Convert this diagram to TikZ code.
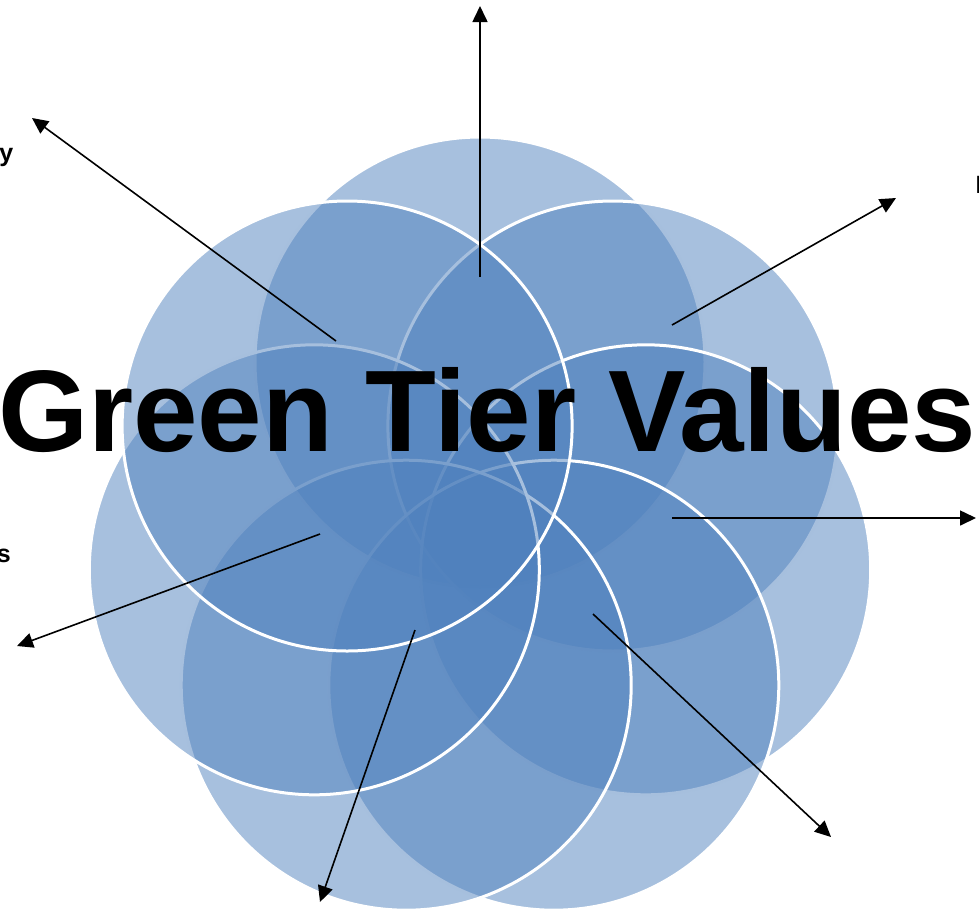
\documentclass[tikz,border=0pt]{standalone}
\usepackage{fontspec}
\setmainfont{Liberation Sans}
\usetikzlibrary{arrows.meta}
\definecolor{petal}{HTML}{4F81BD}
\tikzset{
  petal/.style={circle, minimum size=450pt, inner sep=0pt, fill=petal, fill opacity=0.5, draw=white, draw opacity=1, line width=3pt},
  ray/.style={draw=black, line width=1.6pt, -{Triangle[length=16pt,width=15pt]}},
  edgelabel/.style={inner sep=0pt, font=\fontsize{25}{28}\selectfont\bfseries},
}
\begin{document}
\begin{tikzpicture}[x=1pt,y=-1pt]
\useasboundingbox (0,0) rectangle (979,914);
\clip (0,0) rectangle (979,914);
% petals, drawn clockwise from the top
\node[petal] (c1) at (480,362) {};
\node[petal] (c2) at (612.9,426) {};
\node[petal] (c3) at (645.7,569.8) {};
\node[petal] (c4) at (553.8,685.2) {};
\node[petal] (c5) at (406.2,685.2) {};
\node[petal] (c6) at (314.3,569.8) {};
\node[petal] (c7) at (347.1,426) {};
% arrow ends
\coordinate (s1) at (480,277);   \coordinate (e1) at (480,6);
\coordinate (s2) at (336,341);   \coordinate (e2) at (32,118);
\coordinate (s3) at (672,325);   \coordinate (e3) at (896,198);
\coordinate (s4) at (672,518);   \coordinate (e4) at (976,518);
\coordinate (s5) at (593,614);   \coordinate (e5) at (831,837);
\coordinate (s6) at (415,630);   \coordinate (e6) at (320,902);
\coordinate (s7) at (320,534);   \coordinate (e7) at (17,646);
\draw[ray] (s1) -- (e1);
\draw[ray] (s2) -- (e2);
\draw[ray] (s3) -- (e3);
\draw[ray] (s4) -- (e4);
\draw[ray] (s5) -- (e5);
\draw[ray] (s6) -- (e6);
\draw[ray] (s7) -- (e7);
% title
\node[inner sep=0pt, anchor=base, font=\fontsize{116}{120}\selectfont\bfseries] (title) at (487,451) {Green Tier Values};
% cut-off labels at the edges
\node[edgelabel, anchor=base east] (ly) at (13.5,161) {y};
\node[edgelabel, anchor=base east] (ls) at (11,562) {s};
\node[edgelabel, anchor=base west] (lr) at (975.4,193) {I};
\end{tikzpicture}
\end{document}
